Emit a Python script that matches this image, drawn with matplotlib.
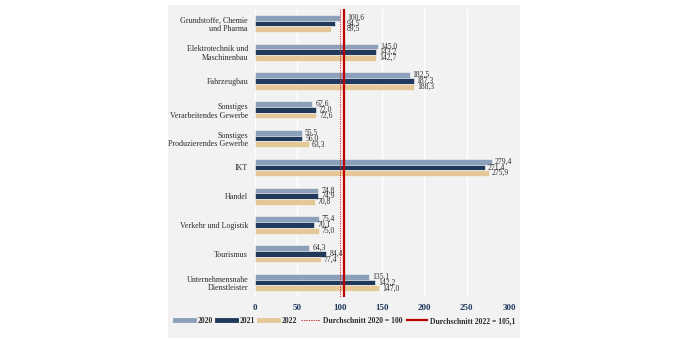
import matplotlib
matplotlib.use("Agg")
import matplotlib.pyplot as plt
import numpy as np
from matplotlib.lines import Line2D

# Branchen und Indexwerte (Durchschnitt 2020 = 100)
categories = [
    "Grundstoffe, Chemie\nund Pharma",
    "Elektrotechnik und\nMaschinenbau",
    "Fahrzeugbau",
    "Sonstiges\nVerarbeitendes Gewerbe",
    "Sonstiges\nProduzierendes Gewerbe",
    "IKT",
    "Handel",
    "Verkehr und Logistik",
    "Tourismus",
    "Unternehmensnahe\nDienstleister",
]
values_2020 = [100.6, 145.0, 182.5, 67.6, 55.5, 279.4, 74.8, 75.4, 64.3, 135.1]
values_2021 = [94.5, 143.2, 187.3, 72.0, 56.0, 271.4, 74.9, 70.1, 84.4, 142.2]
values_2022 = [89.5, 142.7, 188.3, 72.6, 63.3, 275.9, 70.8, 75.0, 77.4, 147.0]
avg_2020 = 100
avg_2022 = 105.1
x_ticks = [0, 50, 100, 150, 200, 250, 300]

series = [("2020", values_2020, "#8da0ba"),
          ("2021", values_2021, "#1f3a5c"),
          ("2022", values_2022, "#e5c898")]

plt.rcParams['font.family'] = ['Liberation Serif', 'DejaVu Serif']
text_color = "#2b2b2b"

fig = plt.figure(figsize=(6.86, 3.43), dpi=100)
fig.patch.set_facecolor("white")
W, H = 686, 343

# grey panel behind the whole chart
bg = fig.add_axes([168 / W, 1 - 338 / H, (520 - 168) / W, (338 - 5) / H], zorder=-1)
bg.set_facecolor("#f2f2f2")
bg.set_xticks([])
bg.set_yticks([])
for s in bg.spines.values():
    s.set_visible(False)

ax = fig.add_axes([255 / W, 1 - 297 / H, (509 - 255) / W, (298 - 10) / H])
ax.patch.set_alpha(0)

y = np.arange(len(categories))
bar_h = 0.2
pitch = 0.2
group_max = np.max([values_2020, values_2021, values_2022], axis=0)
for i, (name, vals, col) in enumerate(series):
    pos = y + (i - 1) * pitch
    ax.barh(pos, vals, height=bar_h, color=col, edgecolor="#f7f7f7",
            linewidth=0.4, zorder=3)
    for g, (p, v) in enumerate(zip(pos, vals)):
        lx = v
        # keep labels clear of the average lines
        if avg_2020 - 12 < group_max[g] < avg_2022 + 3:
            lx = avg_2022
        ax.text(lx + 3.5, p, f"{v:.1f}".replace(".", ","), va="center", ha="left",
                fontsize=5.5, color=text_color, zorder=5)

ax.axvline(avg_2020, color="#d04040", linestyle=(0, (1.5, 1)), linewidth=0.7, zorder=4)
ax.axvline(avg_2022, color="#c00000", linewidth=1.6, zorder=4)

ax.set_xlim(0, 300)
ax.set_ylim(len(categories) - 0.5, -0.5)
ax.set_xticks(x_ticks)
ax.set_xticklabels([str(t) for t in x_ticks], fontsize=6.5, color="#1f3a5c", fontweight="bold")
ax.set_yticks(y)
ax.set_yticklabels(categories, fontsize=5.8, color=text_color, linespacing=1.15)
ax.tick_params(axis="y", length=0, pad=5)
ax.tick_params(axis="x", length=0, pad=5)
ax.grid(axis="x", color="white", linewidth=1.0, zorder=1)
ax.set_axisbelow(True)
for s in ax.spines.values():
    s.set_visible(False)

handles = [Line2D([], [], color=c, linewidth=3.5) for _, _, c in series]
handles += [Line2D([], [], color="#d04040", linestyle=(0, (1.5, 1)), linewidth=0.7),
            Line2D([], [], color="#c00000", linewidth=1.6)]
labels = ["2020", "2021", "2022", "Durchschnitt 2020 = 100", "Durchschnitt 2022 = 105,1"]
leg = fig.legend(handles, labels, loc="center", bbox_to_anchor=(345 / W, 1 - 321 / H),
                 ncol=5, frameon=False, handlelength=2.5,
                 handletextpad=0.4, columnspacing=0.6,
                 prop={"weight": "bold", "size": 5.5})
for t in leg.get_texts():
    t.set_color(text_color)

fig.savefig("out.png", dpi=100, facecolor="white")
